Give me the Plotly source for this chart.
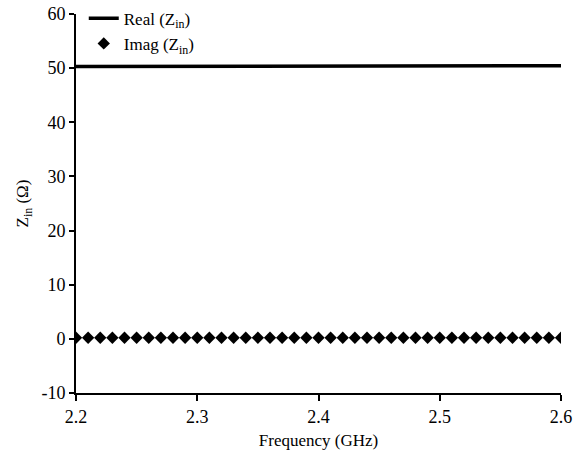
import plotly.graph_objects as go

freq = [round(2.2 + 0.01 * i, 2) for i in range(41)]
real_z = [50.3 + 0.004 * i for i in range(41)]
imag_z = [0.2] * 41
x_ticks = [2.2, 2.3, 2.4, 2.5, 2.6]
x_labels = ["2.2", "2.3", "2.4", "2.5", "2.6"]
y_ticks = [-10, 0, 10, 20, 30, 40, 50, 60]
y_labels = ["-10", "0", "10", "20", "30", "40", "50", "60"]

fig = go.Figure()
fig.add_trace(go.Scatter(x=freq, y=real_z, mode="lines", name="Real (Z<sub>in</sub>)",
                         line=dict(color="black", width=3.5)))
fig.add_trace(go.Scatter(x=freq, y=imag_z, mode="markers", name="Imag (Z<sub>in</sub>)",
                         marker=dict(symbol="diamond", color="black", size=9.5)))

font = dict(family="Liberation Serif, Times New Roman, serif", size=17, color="black")
tfont = dict(family="Liberation Serif, Times New Roman, serif", size=18, color="black")
fig.update_layout(
    width=575, height=455,
    margin=dict(l=76, r=14, t=14, b=62, autoexpand=False),
    paper_bgcolor="white", plot_bgcolor="white",
    font=font,
    showlegend=True,
    legend=dict(x=0.016, y=1.035, xanchor="left", yanchor="top", bgcolor="rgba(0,0,0,0)",
                font=font, tracegroupgap=0, itemwidth=30),
    xaxis=dict(range=[2.2, 2.6], tickvals=x_ticks, ticktext=x_labels,
               showline=True, linecolor="black", linewidth=2, ticks="outside", ticklen=6,
               tickwidth=2, tickcolor="black", showgrid=False, zeroline=False, automargin=False,
               tickfont=tfont,
               title=dict(text="Frequency (GHz)", font=font, standoff=9)),
    yaxis=dict(range=[-10, 60], tickvals=y_ticks, ticktext=y_labels,
               showline=True, linecolor="black", linewidth=2, ticks="outside", ticklen=5,
               tickwidth=2, tickcolor="black", showgrid=False, zeroline=False, automargin=False,
               tickfont=tfont,
               title=dict(text="Z<sub>in</sub> (Ω)", font=font, standoff=8)),
)
fig.write_html("out.html")
